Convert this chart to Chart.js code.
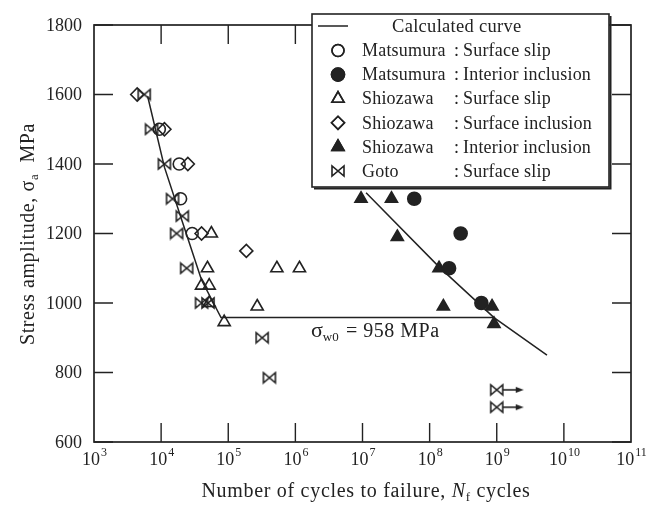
<!DOCTYPE html>
<html>
<head>
<meta charset="utf-8">
<script src="https://cdn.jsdelivr.net/npm/chart.js@4.4.1/dist/chart.umd.min.js"></script>
<style>
  html, body { margin: 0; padding: 0; background: #fff; }
  #wrap { width: 656px; height: 505px; }
</style>
</head>
<body>
<div id="wrap"><canvas id="chart" width="656" height="505"></canvas></div>
<script>
// axis ticks
const xExps = [3, 4, 5, 6, 7, 8, 9, 10, 11];
const yTicks = [600, 800, 1000, 1200, 1400, 1600, 1800];

// calculated curve
const curveN = [6.3e3, 1.12e4, 2.1e4, 4.0e4, 7.8e4, 9.1e8];
const curveS = [1595, 1391, 1230, 1066, 958, 958];
const curve2N = [1.13e7, 1.38e8, 9.1e8, 5.6e9];
const curve2S = [1317, 1104, 958, 850];

// Matsumura
const matSurfN = [9.4e3, 1.86e4, 1.95e4, 2.9e4];
const matSurfS = [1500, 1400, 1300, 1200];
const matInclN = [5.9e7, 2.9e8, 1.95e8, 5.9e8];
const matInclS = [1300, 1200, 1100, 1000];

// Shiozawa
const shioSurfN = [5.6e4, 4.9e4, 5.3e5, 1.15e6, 4.0e4, 5.2e4, 5.2e4, 2.7e5, 8.7e4];
const shioSurfS = [1200, 1100, 1100, 1100, 1050, 1050, 1000, 990, 945];
const shioSincN = [4.4e3, 1.12e4, 2.5e4, 4.0e4, 1.86e5];
const shioSincS = [1600, 1500, 1400, 1200, 1150];
const shioIntN = [9.5e6, 2.7e7, 3.3e7, 1.38e8, 1.6e8, 8.5e8, 9.1e8];
const shioIntS = [1300, 1300, 1190, 1100, 990, 990, 940];

// Goto
const gotoN = [5.6e3, 7.2e3, 1.12e4, 1.48e4, 2.07e4, 1.7e4, 2.4e4, 4.0e4, 5.0e4, 3.2e5, 4.1e5];
const gotoS = [1600, 1500, 1400, 1300, 1250, 1200, 1100, 1000, 1000, 900, 785];
const gotoRunN = [1e9, 1e9];
const gotoRunS = [750, 700];

const ink = '#222';
const serif = '"Liberation Serif", "DejaVu Serif", serif';
const TICK = 19;
const LW = 1.6;

const pts = (xs, ys) => xs.map((v, i) => ({ x: v, y: ys[i] }));

// bowtie marker, optionally with the run-out arrow
function makeBowtie(arrow) {
    const c = document.createElement('canvas');
    c.width = arrow ? 62 : 16;
    c.height = 14;
    const g = c.getContext('2d');
    const cx = c.width / 2, cy = 7;
    g.strokeStyle = ink;
    g.fillStyle = ink;
    g.lineWidth = LW;
    g.beginPath();
    g.moveTo(cx - 6, cy - 5);
    g.lineTo(cx - 6, cy + 5);
    g.lineTo(cx + 6, cy - 5);
    g.lineTo(cx + 6, cy + 5);
    g.closePath();
    g.stroke();
    if (arrow) {
        g.beginPath();
        g.moveTo(cx + 6, cy);
        g.lineTo(cx + 21, cy);
        g.stroke();
        g.beginPath();
        g.moveTo(cx + 19, cy - 3);
        g.lineTo(cx + 27, cy);
        g.lineTo(cx + 19, cy + 3);
        g.closePath();
        g.fill();
    }
    return c;
}
const bowtie = makeBowtie(false);
const bowtieArrow = makeBowtie(true);

function markerSet(label, data, style, radius, filled) {
    return {
        label,
        data,
        showLine: false,
        pointStyle: style,
        pointRadius: radius,
        pointHoverRadius: radius,
        pointBorderWidth: LW,
        borderColor: ink,
        pointBorderColor: ink,
        pointBackgroundColor: filled ? ink : 'rgba(0,0,0,0)'
    };
}

const datasets = [
    { label: 'Calculated curve', data: pts(curveN, curveS), showLine: true, pointRadius: 0,
      borderColor: ink, borderWidth: 1.5, tension: 0 },
    { label: 'curve2', data: pts(curve2N, curve2S), showLine: true, pointRadius: 0,
      borderColor: ink, borderWidth: 1.5, tension: 0 },
    markerSet('Matsumura surface', pts(matSurfN, matSurfS), 'circle', 6, false),
    markerSet('Shiozawa surface slip', pts(shioSurfN, shioSurfS), 'triangle', 7, false),
    markerSet('Shiozawa surface incl', pts(shioSincN, shioSincS), 'rectRot', 6.5, false),
    markerSet('Goto', pts(gotoN, gotoS), bowtie, 7, false),
    markerSet('Goto runout', pts(gotoRunN, gotoRunS), bowtieArrow, 7, false),
    markerSet('Matsumura interior', pts(matInclN, matInclS), 'circle', 6.5, true),
    markerSet('Shiozawa interior', pts(shioIntN, shioIntS), 'triangle', 7, true)
];

// legend rows: marker, name, kind
const legendRows = [
    [{ style: 'circle', r: 6, fill: false }, 'Matsumura', 'Surface slip'],
    [{ style: 'circle', r: 6.5, fill: true }, 'Matsumura', 'Interior inclusion'],
    [{ style: 'triangle', r: 7, fill: false }, 'Shiozawa', 'Surface slip'],
    [{ style: 'rectRot', r: 6.5, fill: false }, 'Shiozawa', 'Surface inclusion'],
    [{ style: 'triangle', r: 7, fill: true }, 'Shiozawa', 'Interior inclusion'],
    [{ style: bowtie, r: 7, fill: false }, 'Goto', 'Surface slip']
];

function spaced(ctx, px) {
    if ('letterSpacing' in ctx) ctx.letterSpacing = px + 'px';
}

const decor = {
    id: 'decor',
    beforeDatasetsDraw(chart) {
        const { ctx, chartArea: a, scales: { x, y } } = chart;
        ctx.save();
        ctx.strokeStyle = ink;
        ctx.lineWidth = 1.7;
        ctx.strokeRect(a.left, a.top, a.right - a.left, a.bottom - a.top);
        ctx.lineWidth = 1.4;
        ctx.beginPath();
        xExps.forEach(e => {
            const px = x.getPixelForValue(Math.pow(10, e));
            if (e === xExps[0] || e === xExps[xExps.length - 1]) return;
            ctx.moveTo(px, a.bottom); ctx.lineTo(px, a.bottom - TICK);
            ctx.moveTo(px, a.top); ctx.lineTo(px, a.top + TICK);
        });
        yTicks.forEach(v => {
            const py = y.getPixelForValue(v);
            ctx.moveTo(a.left, py); ctx.lineTo(a.left + TICK, py);
            ctx.moveTo(a.right, py); ctx.lineTo(a.right - TICK, py);
        });
        ctx.stroke();
        ctx.restore();
    },
    afterDraw(chart) {
        const { ctx, chartArea: a, scales: { x, y } } = chart;
        ctx.save();
        ctx.fillStyle = ink;

        // y tick labels
        ctx.font = `18px ${serif}`;
        ctx.textAlign = 'right';
        ctx.textBaseline = 'middle';
        yTicks.forEach(v => ctx.fillText(String(v), a.left - 12, y.getPixelForValue(v) + 1));

        // x tick labels, 10 with superscript exponent
        ctx.textBaseline = 'alphabetic';
        ctx.textAlign = 'left';
        xExps.forEach(e => {
            const px = x.getPixelForValue(Math.pow(10, e));
            ctx.font = `18px ${serif}`;
            const wb = ctx.measureText('10').width;
            ctx.font = `12px ${serif}`;
            const we = ctx.measureText(String(e)).width;
            const start = px - (wb + we) / 2;
            ctx.font = `18px ${serif}`;
            ctx.fillText('10', start, a.bottom + 23);
            ctx.font = `12px ${serif}`;
            ctx.fillText(String(e), start + wb + 1, a.bottom + 14);
        });

        // x title: Number of cycles to failure, N_f cycles
        spaced(ctx, 0.7);
        const xt1 = 'Number of cycles to failure, ';
        const xt4 = ' cycles';
        ctx.font = `20px ${serif}`;
        const w1 = ctx.measureText(xt1).width;
        const w4 = ctx.measureText(xt4).width;
        ctx.font = `italic 20px ${serif}`;
        const w2 = ctx.measureText('N').width;
        ctx.font = `13px ${serif}`;
        const w3 = ctx.measureText('f').width;
        let tx = 366 - (w1 + w2 + w3 + w4) / 2;
        const ty = 497;
        ctx.font = `20px ${serif}`;
        ctx.fillText(xt1, tx, ty); tx += w1;
        ctx.font = `italic 20px ${serif}`;
        ctx.fillText('N', tx, ty); tx += w2;
        ctx.font = `13px ${serif}`;
        ctx.fillText('f', tx, ty + 4); tx += w3;
        ctx.font = `20px ${serif}`;
        ctx.fillText(xt4, tx, ty);

        // y title: Stress amplitude, sigma_a MPa
        ctx.save();
        ctx.translate(34, 234);
        ctx.rotate(-Math.PI / 2);
        spaced(ctx, 0.6);
        const yt1 = 'Stress amplitude, ';
        const yt4 = '  MPa';
        ctx.font = `20px ${serif}`;
        const v1 = ctx.measureText(yt1).width;
        const v2 = ctx.measureText('σ').width;
        const v4 = ctx.measureText(yt4).width;
        ctx.font = `13px ${serif}`;
        const v3 = ctx.measureText('a').width;
        let sx = -(v1 + v2 + v3 + v4) / 2;
        ctx.font = `20px ${serif}`;
        ctx.fillText(yt1, sx, 0); sx += v1;
        ctx.fillText('σ', sx, 0); sx += v2;
        ctx.font = `13px ${serif}`;
        ctx.fillText('a', sx, 4); sx += v3;
        ctx.font = `20px ${serif}`;
        ctx.fillText(yt4, sx, 0);
        ctx.restore();

        // fatigue limit label
        spaced(ctx, 0);
        const ay = y.getPixelForValue(958) + 19;
        let ax = 311;
        ctx.font = `22px ${serif}`;
        ctx.fillText('σ', ax, ay); ax += ctx.measureText('σ').width;
        ctx.font = `13px ${serif}`;
        ctx.fillText('w0', ax, ay + 4);
        spaced(ctx, 0.5);
        ctx.font = `20px ${serif}`;
        ctx.fillText('= 958 MPa', 346, ay);

        // legend box
        spaced(ctx, 0);
        const lx = 312, ly = 14, lw = 297, lh = 173;
        ctx.fillStyle = '#fff';
        ctx.fillRect(lx, ly, lw, lh);
        ctx.strokeStyle = ink;
        ctx.lineWidth = 1.6;
        ctx.strokeRect(lx, ly, lw, lh);
        ctx.lineWidth = 2;
        ctx.beginPath();
        ctx.moveTo(lx + lw + 1.5, ly + 2); ctx.lineTo(lx + lw + 1.5, ly + lh + 1.5); ctx.lineTo(lx + 2, ly + lh + 1.5);
        ctx.stroke();

        ctx.fillStyle = ink;
        ctx.textBaseline = 'middle';
        ctx.lineWidth = 1.5;
        ctx.beginPath();
        ctx.moveTo(lx + 6, 26); ctx.lineTo(lx + 36, 26);
        ctx.stroke();
        spaced(ctx, 0.3);
        ctx.font = `18.5px ${serif}`;
        ctx.fillText('Calculated curve', 392, 27);

        spaced(ctx, 0.2);
        ctx.font = `18px ${serif}`;
        legendRows.forEach((row, i) => {
            const cy = 50.5 + i * 24.1;
            const m = row[0];
            ctx.fillStyle = m.fill ? ink : '#fff';
            ctx.lineWidth = LW;
            Chart.helpers.drawPoint(ctx, { pointStyle: m.style, radius: m.r, rotation: 0, borderWidth: LW }, 338, cy);
            if (m.fill) ctx.fill();
            if (typeof m.style === 'string') ctx.stroke();
            ctx.fillStyle = ink;
            ctx.fillText(row[1], 362, cy + 1);
            ctx.fillText(':', 454, cy + 1);
            ctx.fillText(row[2], 463, cy + 1);
        });
        ctx.restore();
    }
};

new Chart(document.getElementById('chart'), {
    type: 'scatter',
    data: { datasets },
    options: {
        responsive: false,
        animation: false,
        events: [],
        layout: { padding: { left: 94, right: 25, top: 25, bottom: 63 } },
        plugins: { legend: { display: false }, tooltip: { enabled: false } },
        scales: {
            x: {
                type: 'logarithmic',
                min: 1e3,
                max: 1e11,
                ticks: { display: false },
                grid: { display: false, drawTicks: false },
                border: { display: false }
            },
            y: {
                min: 600,
                max: 1800,
                ticks: { display: false, stepSize: 200 },
                grid: { display: false, drawTicks: false },
                border: { display: false }
            }
        }
    },
    plugins: [decor]
});
</script>
</body>
</html>
